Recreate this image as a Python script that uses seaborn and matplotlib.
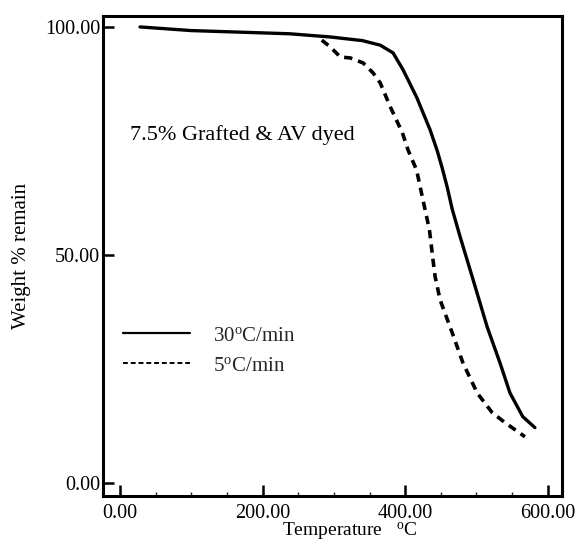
import matplotlib
matplotlib.use("Agg")
import matplotlib.pyplot as plt
import seaborn as sns
import pandas as pd
from matplotlib.ticker import MultipleLocator, FormatStrFormatter
from matplotlib.lines import Line2D

# ---- data ----
solid_T = [28, 100, 238, 295, 340, 365, 383, 397, 416, 435, 445, 452, 459, 466, 477, 494, 515, 533, 547, 565, 582]
solid_W = [100, 99.2, 98.5, 97.8, 97.0, 96.0, 94.3, 90.6, 84.6, 77.4, 72.8, 69.0, 64.8, 60.0, 54.0, 45.2, 34.2, 26.3, 19.7, 14.5, 12.1]

dashed_T = [283, 295, 309, 323, 341, 355, 365, 379, 396, 404, 416, 425, 434, 439, 442, 449, 466, 481, 501, 522, 540, 568]
dashed_W = [97.1, 95.6, 93.4, 93.2, 92.1, 89.9, 87.7, 82.5, 76.8, 73.0, 68.6, 62.0, 55.5, 48.9, 45.2, 40.1, 32.9, 26.3, 19.7, 15.4, 13.2, 10.1]

series_labels = ["30$^{\\rm o}$C/min", "5$^{\\rm o}$C/min"]
x_ticks = [0, 200, 400, 600]
y_ticks = [0, 50, 100]
annotation = "7.5% Grafted & AV dyed"
x_label = "Temperature   $^{\\rm o}$C"
y_label = "Weight % remain"

sns.set_theme(style="white")
plt.rcParams["font.family"] = ["Liberation Serif", "DejaVu Serif"]
plt.rcParams["mathtext.fontset"] = "custom"
plt.rcParams["mathtext.rm"] = "Liberation Serif"
plt.rcParams["mathtext.it"] = "Liberation Serif:italic"

fig = plt.figure(figsize=(5.8, 5.43), dpi=100)
ax = fig.add_axes([103/580, 1-496/543, (562-103)/580, (496-16)/543])

df_s = pd.DataFrame({"T": solid_T, "W": solid_W})
df_d = pd.DataFrame({"T": dashed_T, "W": dashed_W})
sns.lineplot(data=df_s, x="T", y="W", ax=ax, color="black", lw=2.4, estimator=None)
sns.lineplot(data=df_d, x="T", y="W", ax=ax, color="black", lw=2.6, estimator=None,
             dashes=False)
ax.lines[-1].set_dashes((2.3, 1.7))

ax.set_xlim(-24, 620)
ax.set_ylim(-2.9, 102.4)
ax.set_xticks(x_ticks)
ax.set_yticks(y_ticks)
ax.xaxis.set_minor_locator(MultipleLocator(50))
ax.xaxis.set_major_formatter(FormatStrFormatter("%.2f"))
ax.yaxis.set_major_formatter(FormatStrFormatter("%.2f"))
ax.tick_params(axis="both", which="major", direction="in", length=8, width=1.8,
               labelsize=14.5, colors="black", pad=4)
ax.tick_params(axis="x", which="minor", direction="in", length=3, width=1, bottom=True)
ax.tick_params(axis="x", which="major", bottom=True, pad=5.5)
ax.tick_params(axis="y", which="major", left=True, pad=2)

for sp in ax.spines.values():
    sp.set_color("black")
    sp.set_linewidth(2.2)

ax.set_xlabel(x_label, fontsize=14, color="black")
ax.xaxis.set_label_coords((350-103)/459, (496-520)/480)
ax.xaxis.label.set_va("top")
ax.set_ylabel(y_label, fontsize=15, color="black", labelpad=10)

ax.text((130-103)/459, (496-135)/480, annotation, transform=ax.transAxes,
        fontsize=16, ha="left", va="center", color="black")

handles = [Line2D([], [], color="black", lw=1.6),
           Line2D([], [], color="black", lw=1.4, dashes=(2.5, 1.5))]
leg = ax.legend(handles, series_labels, loc="center left",
                bbox_to_anchor=((123-103)/459, (496-351)/480), frameon=False,
                fontsize=15, handlelength=3.2, handletextpad=1.1,
                labelspacing=0.5, borderpad=0, borderaxespad=0)

fig.savefig("out.png", dpi=100)
